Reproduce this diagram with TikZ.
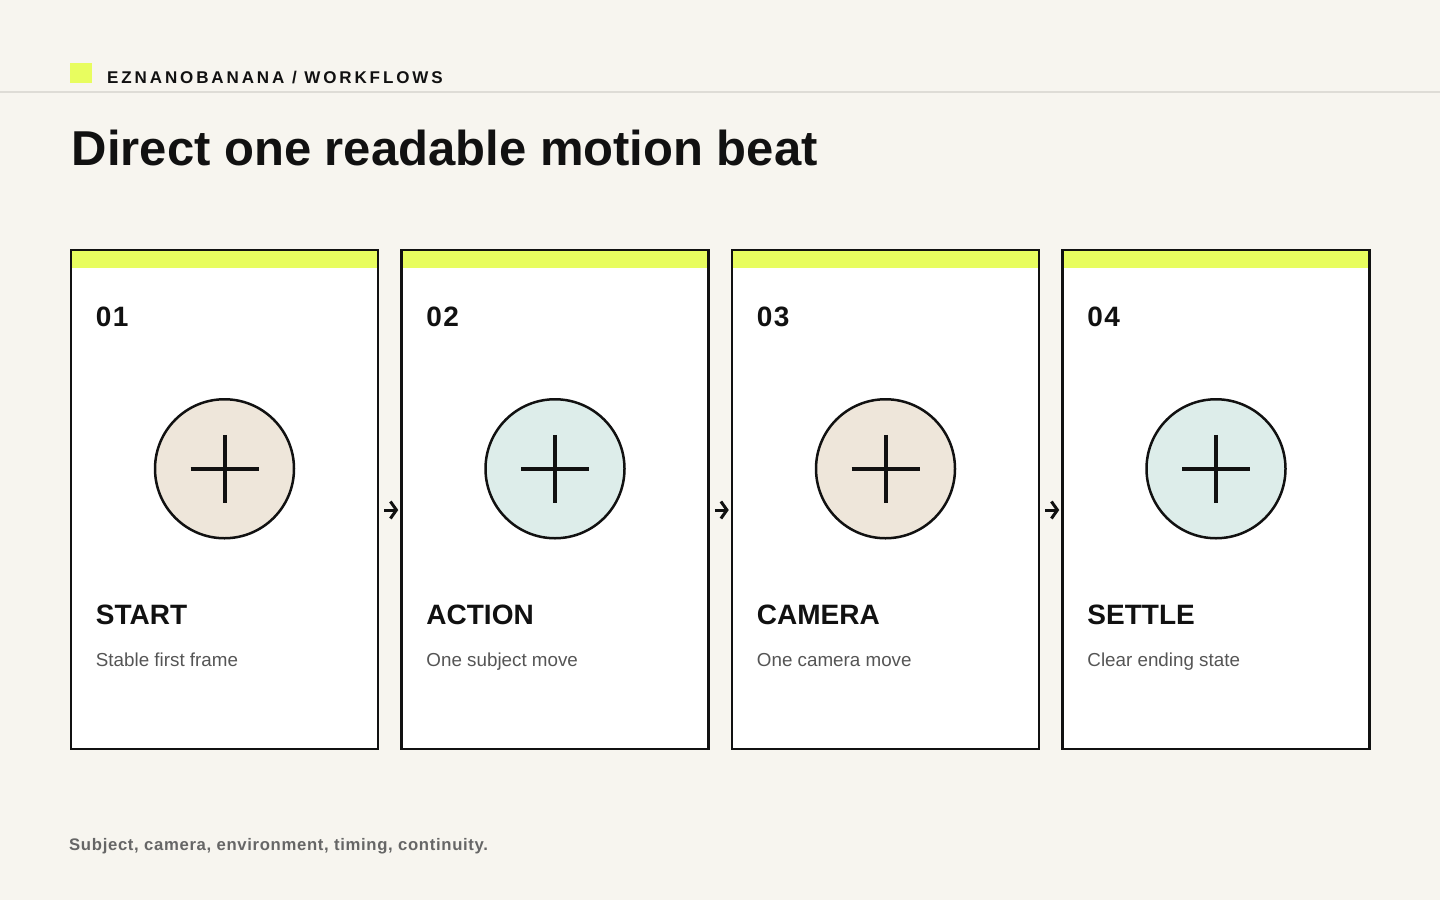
\documentclass[tikz,border=0pt]{standalone}
\usepackage{fontspec}
\setmainfont{Liberation Sans}
\newfontfamily\headfont[LetterSpace=17]{Liberation Sans}
\newfontfamily\footfont[LetterSpace=4]{Liberation Sans}
\newfontfamily\numfont[LetterSpace=5]{Liberation Sans}
\usetikzlibrary{arrows.meta,positioning,calc}

\definecolor{paper}{HTML}{F7F5EF}
\definecolor{lime}{HTML}{E8FD5F}
\definecolor{rulegray}{HTML}{DEDCD6}
\definecolor{ink}{HTML}{111111}
\definecolor{sand}{HTML}{EEE6DA}
\definecolor{mint}{HTML}{DDEDEA}
\definecolor{subgray}{HTML}{555555}
\definecolor{footgray}{HTML}{666666}

\tikzset{
	card/.style={draw=ink, line width=2.5pt, fill=white, inner sep=0pt,
		minimum width=307pt, minimum height=499pt,
		path picture={\fill[lime] (path picture bounding box.north west) rectangle ([yshift=-18pt]path picture bounding box.north east);}},
	badge/.style={circle, draw=ink, line width=2.5pt, minimum size=139pt, inner sep=0pt},
	label/.style={anchor=base west, inner sep=0pt, text=ink},
	flow/.style={draw=ink, line width=3pt, -{Straight Barb[length=6pt,width=17pt]}}
}

\begin{document}
\begin{tikzpicture}[x=1pt, y=-1pt]
							% 背景与边界
							\useasboundingbox[fill=paper] (0,0) rectangle (1440,900);
							
							% 页眉
							\fill[lime] (70,63) rectangle (92,83);
							\node[label] (brand) at (107,83) {\headfont\bfseries\fontsize{17}{20}\selectfont EZNANOBANANA / WORKFLOWS};
							\draw[rulegray, line width=1.5pt] (0,92) -- (1440,92);
							
							% 标题
							\node[label] (title) at (71.5,165) {\bfseries\fontsize{49}{58}\selectfont Direct one readable motion beat};
							
							% 四个步骤卡片
							\foreach \i/\num/\name/\desc/\tint in {1/01/START/Stable first frame/sand,
								2/02/ACTION/One subject move/mint,
								3/03/CAMERA/One camera move/sand,
								4/04/SETTLE/Clear ending state/mint} {
								\node[card] (card\i) at ({224.5+330.5*(\i-1)},499.5) {};
								\node[label] (num\i) at ([shift={(26,77.5)}]card\i.north west) {\numfont\bfseries\fontsize{28}{32}\selectfont \num};
								\node[badge, fill=\tint] (dot\i) at ([yshift=-220pt]card\i.north) {};
								\draw[ink, line width=4pt] ([xshift=-34pt]dot\i.center) -- ([xshift=34pt]dot\i.center);
								\draw[ink, line width=4pt] ([yshift=34pt]dot\i.center) -- ([yshift=-34pt]dot\i.center);
								\node[label] (name\i) at ([shift={(26,376)}]card\i.north west) {\bfseries\fontsize{28}{32}\selectfont \name};
								\node[label, text=subgray] (desc\i) at ([shift={(26,418)}]card\i.north west) {\fontsize{18.8}{22}\selectfont \desc};
							}
							
							% 卡片之间的箭头
							\foreach \a/\b in {1/2, 2/3, 3/4}
								\draw[flow] ([shift={(5,10.5)}]card\a.east) -- ([shift={(-2,10.5)}]card\b.west);
							
							% 页脚
							\node[label, text=footgray] (foot) at (69,850) {\footfont\bfseries\fontsize{16.7}{20}\selectfont Subject, camera, environment, timing, continuity.};
						\end{tikzpicture}
\end{document}
